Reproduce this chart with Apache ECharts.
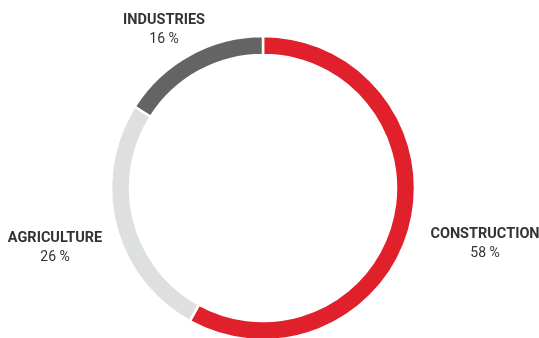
<!DOCTYPE html>
<html><head><meta charset="utf-8">
<script src="https://cdn.jsdelivr.net/npm/echarts@6/dist/echarts.min.js"></script>
<style>html,body{margin:0;padding:0;background:#fff}#c{width:539px;height:338px}</style>
</head><body><div id="c"></div>
<script>
const categories = ['CONSTRUCTION', 'AGRICULTURE', 'INDUSTRIES'];
const values = [58, 26, 16];
const colors = ['#E0202A', '#DEDFE0', '#646464'];
const labelPos = [[485, 243.5], [55, 248], [164, 29.5]];

const chart = echarts.init(document.getElementById('c'), null, {renderer: 'canvas'});
chart.setOption({
  animation: false,
  series: [{
    type: 'pie',
    center: [263, 188],
    radius: [133, 152],
    startAngle: 90,
    clockwise: true,
    itemStyle: {borderColor: '#fff', borderWidth: 2.5},
    label: {
      show: true,
      position: 'outside',
      alignTo: 'none',
      overflow: 'none',
      width: 200,
      align: 'center',
      formatter: '{n|{b}}\n{v|{c} %}',
      rich: {
        n: {fontFamily: 'Roboto', fontWeight: 'bold', fontSize: 14.5, color: '#333', lineHeight: 19, align: 'center'},
        v: {fontFamily: 'Roboto', fontSize: 14, color: '#333', lineHeight: 19, align: 'center'}
      }
    },
    labelLine: {show: false},
    labelLayout: function (p) {
      const pos = labelPos[p.dataIndex];
      return {x: pos[0], y: pos[1], align: 'center', verticalAlign: 'middle'};
    },
    emphasis: {disabled: true},
    data: categories.map((c, i) => ({name: c, value: values[i], itemStyle: {color: colors[i]}}))
  }]
});
</script></body></html>
